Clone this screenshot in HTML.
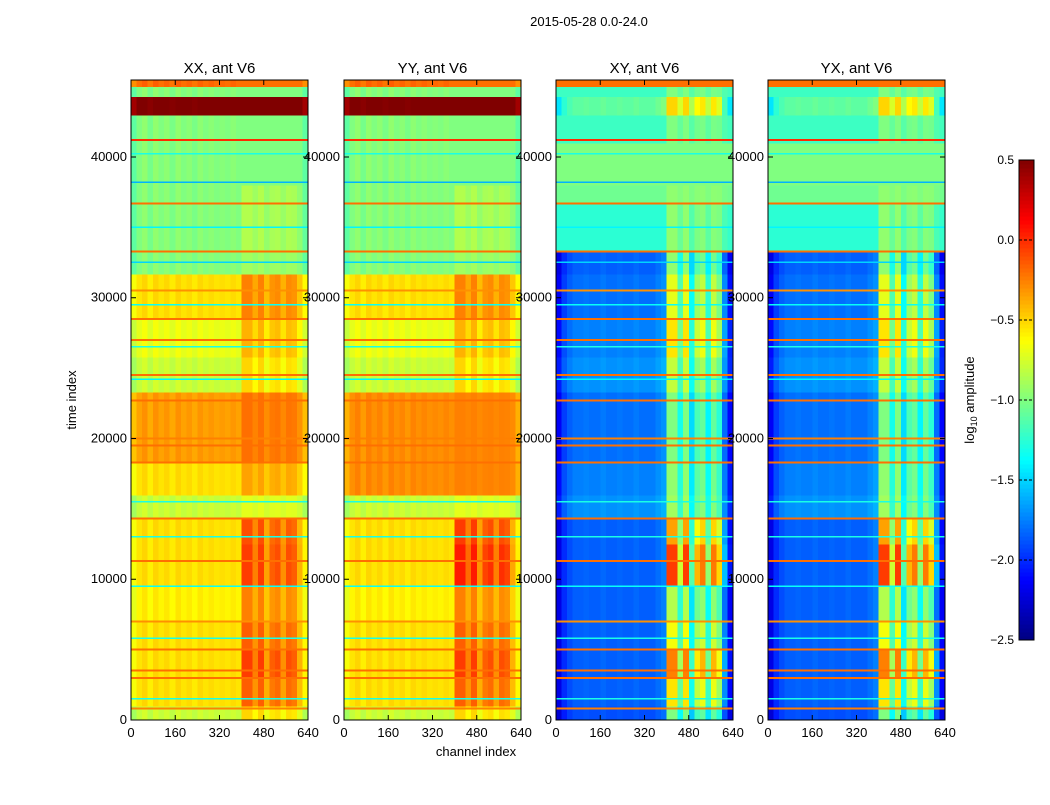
<!DOCTYPE html>
<html><head><meta charset="utf-8"><style>
body{margin:0;background:#fff;}
svg text{font-family:"Liberation Sans",sans-serif;}
</style></head><body>
<svg id="fig" width="1050" height="800" xmlns="http://www.w3.org/2000/svg">
<rect width="1050" height="800" fill="#fff"/>
<text x="589" y="26" font-size="13" text-anchor="middle">2015-05-28 0.0-24.0</text>
<text x="476" y="756" font-size="13" text-anchor="middle">channel index</text>
<text x="76" y="400" font-size="13" text-anchor="middle" transform="rotate(-90 76 400)">time index</text>
<text x="974" y="400" font-size="13" text-anchor="middle" transform="rotate(-90 974 400)">log<tspan font-size="9" dy="3">10</tspan><tspan dy="-3"> amplitude</tspan></text>
<g id="panels"></g>
<g id="cbar"></g>
</svg>
<script>
// ---- data ----
const panelTitles = ["XX, ant V6","YY, ant V6","XY, ant V6","YX, ant V6"];
const xTicks = [0,160,320,480,640];
const yTicks = [0,10000,20000,30000,40000];
const cbarTicks = [0.5,0.0,-0.5,-1.0,-1.5,-2.0,-2.5];
const cbarLabels = ["0.5","0.0","\u22120.5","\u22121.0","\u22121.5","\u22122.0","\u22122.5"];
const bandStart = [0,1000,3000,5000,7000,9500,12500,14300,16000,18300,23300,25800,28500,31700,33300,36700,38000,41000,43000,44300,45000];
const xxBase = [-0.8,-0.55,-0.55,-0.55,-0.6,-0.55,-0.55,-0.8,-0.55,-0.35,-0.8,-0.7,-0.55,-1.0,-1.0,-1.0,-1.0,-1.0,0.5,-1.0,-0.2];
const xxAmp  = [0.3,0.4,0.5,0.4,0.35,0.5,0.45,0.1,0.2,0.15,0.3,0.3,0.3,0.1,0.15,0.15,0,0,0,0,0];
const yyBase = [-0.8,-0.55,-0.55,-0.55,-0.6,-0.55,-0.55,-0.8,-0.3,-0.3,-0.8,-0.7,-0.55,-1.0,-1.0,-1.0,-1.0,-1.0,0.5,-1.0,-0.2];
const yyAmp  = [0.3,0.4,0.5,0.4,0.35,0.6,0.5,0.1,0.05,0.05,0.3,0.3,0.3,0.1,0.15,0.15,0,0,0,0,0];
const xyBase = [-1.9,-1.85,-1.85,-1.85,-1.85,-1.85,-1.85,-1.7,-1.75,-1.8,-1.7,-1.75,-1.8,-1.85,-1.25,-1.05,-1.0,-1.2,-1.1,-1.2,-0.2];
const xyAmp  = [0.9,1.3,1.6,1.2,1.0,1.8,1.5,0.8,0.8,0.8,0.9,1.2,1.1,0.9,0.3,0.1,0,0.2,0.6,0.2,0];
const rfi = [0,0,0,0,0,0,0,0,0,0,0,0,0,0,0,0,0,0,0,0,1,1,0.6,1,0.4,0.8,0.9,0.5,0.9,0.8,0.3,0.1];
const xxRipple = [-0.1,0,0.05,-0.03,0.05,0,0.04,-0.02,0.05,0,0.03,-0.02,0.04,0,0.03,0,0.02,0,0.03,0,0,0,0,0,0,0,0,0,0,0,0,-0.1];
const xyEdge = [-0.35,-0.15,-0.05,0,0,0.02,0,0,0.03,0,0,0.02,0,0,0.03,0,0,0,0.05,0.1,0,0,0,0,0,0,0,0,0,-0.1,-0.25,-0.4];
const lineT = [800,3000,3500,5000,7000,11300,14300,18300,19500,20000,22700,24500,27000,28500,30500,33300,36700,41200];
const lineV = [-0.25,-0.2,-0.2,-0.2,-0.3,-0.2,-0.2,-0.2,-0.2,-0.25,-0.2,-0.2,-0.2,-0.2,-0.3,-0.2,-0.2,0.0];
const cyanT = [1500,5800,9500,13000,15500,24200,26500,29500,32500,35000,38200,40200];
const cyanV = [-1.3,-1.3,-1.35,-1.3,-1.3,-1.4,-1.3,-1.35,-1.5,-1.4,-1.6,-1.3];

// ---- geometry ----
const panelX = [131,344,556,768], pw = 177, plotTop = 80, plotBot = 720;
const tMax = 45470, chMax = 640;
const ys = t => plotBot - (t / tMax) * (plotBot - plotTop);
const xs = (p, c) => panelX[p] + c / chMax * pw;
function jet(v){
  let f = (v + 2.5) / 3; f = Math.max(0, Math.min(1, f));
  const c = x => Math.round(255 * Math.max(0, Math.min(1, x)));
  return `rgb(${c(1.5 - Math.abs(4*f-3))},${c(1.5 - Math.abs(4*f-2))},${c(1.5 - Math.abs(4*f-1))})`;
}
const NS = "http://www.w3.org/2000/svg";
function mk(tag, attrs, parent){ const e = document.createElementNS(NS, tag); for (const k in attrs) e.setAttribute(k, attrs[k]); parent.appendChild(e); return e; }
const G = document.getElementById("panels");
const bases = [xxBase, yyBase, xyBase, xyBase], amps = [xxAmp, yyAmp, xyAmp, xyAmp];
for (let p = 0; p < 4; p++) {
  const g = mk("g", {"shape-rendering":"crispEdges"}, G);
  
  
  for (let b = 0; b < bandStart.length; b++) {
    const t0 = bandStart[b], t1 = b+1 < bandStart.length ? bandStart[b+1] : tMax;
    for (let c = 0; c < rfi.length; c++) {
      let v = bases[p][b] + amps[p][b] * rfi[c] + (p < 2 ? xxRipple[c] : xyEdge[c] * (amps[p][b] > 0.3 ? 1 : 0));
      const r = mk("rect", {x: xs(p, c*20), y: ys(t1), width: xs(p, (c+1)*20) - xs(p, c*20) + 0.5, height: ys(t0) - ys(t1) + 0.5, fill: jet(v)}, g);
      
      
    }
  }
  for (let i = 0; i < lineT.length; i++) {
    const l = mk("rect", {x: xs(p,0), y: ys(lineT[i]) - 1, width: pw, height: 2, fill: jet(lineV[i])}, g);
    
    
  }
  for (let i = 0; i < cyanT.length; i++) {
    const l = mk("rect", {x: xs(p,0), y: ys(cyanT[i]) - 1, width: pw, height: 1.5, fill: jet(cyanV[i])}, g);
    
    
  }
  const fr = mk("rect", {x: panelX[p], y: plotTop, width: pw, height: plotBot-plotTop, fill: "none", stroke: "#000", "stroke-width": 1}, G);
  
  
  const tt = mk("text", {x: panelX[p] + pw/2, y: 73, "font-size": 15, "text-anchor": "middle"}, G);
  tt.textContent = panelTitles[p];
  
  
  xTicks.forEach(v => {
    const x = xs(p, v);
    mk("line", {x1:x, x2:x, y1:plotBot, y2:plotBot-5, stroke:"#000"}, G);
    mk("line", {x1:x, x2:x, y1:plotTop, y2:plotTop+5, stroke:"#000"}, G);
    const t = mk("text", {x: x, y: plotBot+17, "font-size": 13, "text-anchor": "middle"}, G);
    t.textContent = v;
    
    
  });
  yTicks.forEach(v => {
    const y = ys(v);
    mk("line", {x1:panelX[p], x2:panelX[p]+5, y1:y, y2:y, stroke:"#000"}, G);
    mk("line", {x1:panelX[p]+pw, x2:panelX[p]+pw-5, y1:y, y2:y, stroke:"#000"}, G);
    const t = mk("text", {x: panelX[p]-4, y: y+4, "font-size": 13, "text-anchor": "end"}, G);
    t.textContent = v;
    
    
  });
}
const C = document.getElementById("cbar");
const cbX = 1019, cbW = 15, cbTop = 160, cbBot = 640;
const cby = v => cbBot - (v + 2.5) / 3 * (cbBot - cbTop);
for (let i = 0; i < 120; i++) {
  const v0 = -2.5 + i * 3 / 120;
  const r = mk("rect", {x: cbX, y: cby(v0 + 3/120), width: cbW, height: (cbBot-cbTop)/120 + 0.6, fill: jet(v0 + 1.5/120), "shape-rendering":"crispEdges"}, C);
  
  
}
const cf = mk("rect", {x: cbX, y: cbTop, width: cbW, height: cbBot-cbTop, fill: "none", stroke: "#000"}, C);


cbarTicks.forEach((v, i) => {
  const y = cby(v);
  mk("line", {x1: cbX, x2: cbX+cbW, y1: y, y2: y, stroke: "#000", "stroke-dasharray": "3,2"}, C);
  const t = mk("text", {x: 1014, y: y+4, "font-size": 12, "text-anchor": "end"}, C);
  t.textContent = cbarLabels[i];
  
  
});
</script>
</body></html>
